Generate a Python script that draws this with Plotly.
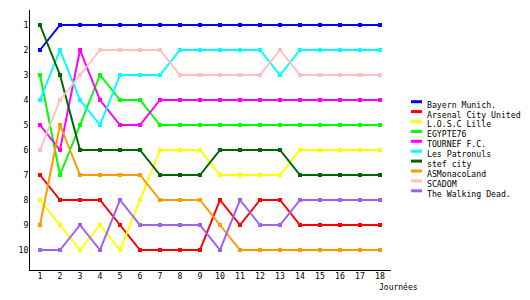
import plotly.graph_objects as go

rounds = list(range(1, 19))
teams = ["Bayern Munich.", "Arsenal City United", "L.O.S.C Lille", "EGYPTE76",
         "TOURNEF F.C.", "Les Patronuls", "stef city", "ASMonacoLand", "SCADOM",
         "The Walking Dead."]
colors = ["#0000FF", "#FF0000", "#FFFF00", "#00FF00", "#FF00FF", "#00FFFF",
          "#006600", "#FF9900", "#FFC0C0", "#A060F0"]

bayern = [2, 1, 1, 1, 1, 1, 1, 1, 1, 1, 1, 1, 1, 1, 1, 1, 1, 1]
arsenal = [7, 8, 8, 8, 9, 10, 10, 10, 10, 8, 9, 8, 8, 9, 9, 9, 9, 9]
lille = [8, 9, 10, 9, 10, 8, 6, 6, 6, 7, 7, 7, 7, 6, 6, 6, 6, 6]
egypte = [3, 7, 5, 3, 4, 4, 5, 5, 5, 5, 5, 5, 5, 5, 5, 5, 5, 5]
tournef = [5, 6, 2, 4, 5, 5, 4, 4, 4, 4, 4, 4, 4, 4, 4, 4, 4, 4]
patronuls = [4, 2, 4, 5, 3, 3, 3, 2, 2, 2, 2, 2, 3, 2, 2, 2, 2, 2]
stef = [1, 3, 6, 6, 6, 6, 7, 7, 7, 6, 6, 6, 6, 7, 7, 7, 7, 7]
monaco = [9, 5, 7, 7, 7, 7, 8, 8, 8, 9, 10, 10, 10, 10, 10, 10, 10, 10]
scadom = [6, 4, 3, 2, 2, 2, 2, 3, 3, 3, 3, 3, 2, 3, 3, 3, 3, 3]
walking = [10, 10, 9, 10, 8, 9, 9, 9, 9, 10, 8, 9, 9, 8, 8, 8, 8, 8]

series = [bayern, arsenal, lille, egypte, tournef, patronuls, stef, monaco, scadom, walking]
rank_ticks = list(range(1, 11))

FONT = "DejaVu Sans Mono"

fig = go.Figure()
for name, col, vals in zip(teams, colors, series):
    fig.add_trace(go.Scatter(
        x=rounds, y=vals, name=name, mode="lines+markers",
        line=dict(color=col, width=2),
        marker=dict(color=col, size=4, symbol="square"),
        hoverinfo="skip", showlegend=False))

# plot area in pixels
L, R, T, B = 30, 391, 10, 270
W, H = 530, 300

def px(x):
    return (x - L) / (R - L)

def py(y):
    return (B - y) / (B - T)

shapes = []
annotations = []
for i, (name, col) in enumerate(zip(teams, colors)):
    ly = 101.7 + 9.9 * i
    ty = 104.6 + 9.9 * i
    shapes.append(dict(type="line", xref="paper", yref="paper",
                       x0=px(411), x1=px(422), y0=py(ly), y1=py(ly),
                       line=dict(color=col, width=3)))
    annotations.append(dict(text=name, xref="paper", yref="paper",
                            x=px(425), y=py(ty), xanchor="left", yanchor="middle",
                            showarrow=False, font=dict(family=FONT, size=8.2, color="black")))

annotations.append(dict(text="Journées", xref="paper", yref="paper",
                        x=px(377), y=py(287), xanchor="left", yanchor="middle",
                        showarrow=False, font=dict(family=FONT, size=8, color="black")))

fig.update_layout(
    width=W, height=H,
    margin=dict(l=L, r=W - R, t=T, b=H - B, pad=0),
    paper_bgcolor="white", plot_bgcolor="white",
    shapes=shapes, annotations=annotations,
    font=dict(family=FONT, size=8.2, color="black"),
    xaxis=dict(range=[0.5, 18.55], tickvals=rounds, ticks="", showgrid=False,
               zeroline=False, showline=True, linecolor="black", linewidth=1,
               tickfont=dict(family=FONT, size=8.2, color="black"), ticklabelstandoff=-2),
    yaxis=dict(range=[10.8, 0.4], tickvals=rank_ticks, ticks="", showgrid=False,
               zeroline=False, showline=True, linecolor="black", linewidth=1,
               tickfont=dict(family=FONT, size=8.2, color="black"), ticklabelstandoff=-1),
)

fig.write_html("out.html")
